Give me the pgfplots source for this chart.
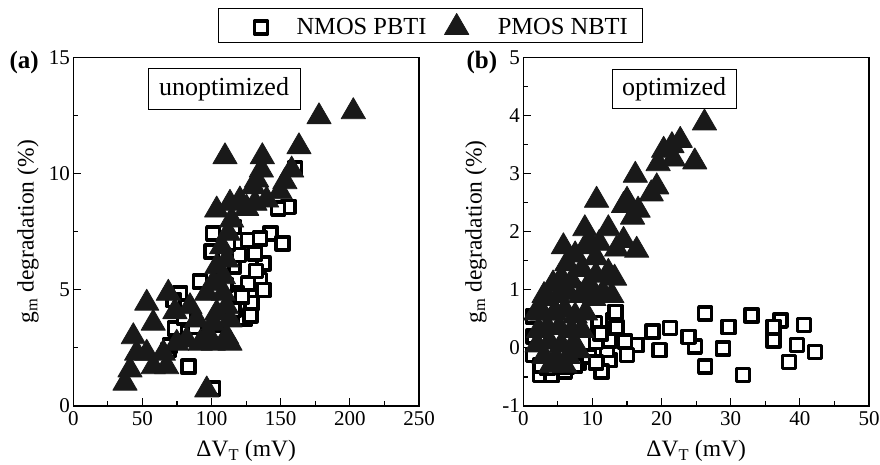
\documentclass[border=0pt]{standalone}
\usepackage{fontspec}
\setmainfont{Liberation Serif}
\usepackage{pgfplots}
\pgfplotsset{compat=1.18}
\pgfplotsset{
  myaxis/.style={
    scale only axis, width=345.7pt, height=348.7pt,
    axis line style={line width=1.5pt},
    tick style={line width=1.2pt, black},
    major tick length=8pt, minor tick length=5pt,
    tick align=inside, tick pos=left,
    minor x tick num=1, minor y tick num=1,
    /pgf/number format/assume math mode=true,
    ticklabel style={font=\fontsize{21}{25}\selectfont},
    xticklabel style={yshift=-2pt},
    label style={font=\fontsize{23.5}{28}\selectfont},
    x label style={at={(axis description cs:0.5,0)}, anchor=base, yshift=-51pt},
    xlabel={ΔV\textsubscript{T} (mV)},
    ylabel={g\textsubscript{m} degradation (\%)},
    clip=false,
  },
  sq/.style={only marks, mark=square*, mark size=6.5pt,
    mark options={draw=black, fill=white, line width=3.5pt, line join=round}},
  sqleg/.style={legend image code/.code={\path (-21pt,0pt); \draw[mark repeat=2,mark phase=2,##1] plot coordinates {(0cm,0cm) (0.3cm,0cm) (0.6cm,0cm)};}},
  tri/.style={only marks, mark=triangle*, mark size=14pt,
    mark options={draw=black!90, fill=black!90, line width=0.8pt, line join=round}},
}
\begin{document}
\begin{tikzpicture}
\path[use as bounding box] (-73.3pt,-59pt) rectangle (806.7pt,406pt);
\begin{axis}[myaxis, at={(0pt,0pt)}, anchor=south west,
  xmin=0, xmax=250, ymin=0, ymax=15,
  xtick={0,50,...,250}, ytick={0,5,10,15},
  y label style={at={(axis description cs:-0.09,0.5)}, anchor=south},
  legend style={at={(axis description cs:1.033,1.09)}, anchor=center,
    legend columns=2, draw=black, line width=1pt,
    inner xsep=13pt, inner ysep=4.5pt,
    font=\fontsize{24.5}{28}\selectfont,
    /tikz/every odd column/.append style={column sep=27pt},
    /tikz/every even column/.append style={column sep=16pt}},
]
\addplot[sq, sqleg] coordinates {
(160.3,10.22)(155.5,8.57)(148.2,8.5)(142.7,7.43)(151.4,7.0)(126.5,7.14)(115.7,7.71)
(101.2,7.43)(100.1,6.64)(137.4,6.14)(131.4,6.57)(135,5.42)(137.4,4.99)(126.5,5.28)
(129,4.42)(124.2,3.77)(115.7,5.99)(118.1,4.85)(115.7,4.13)(91.6,5.35)(77.2,4.85)
(72.3,4.56)(84.4,3.7)(73.5,3.34)(68.7,2.41)(83.2,1.69)(101.2,0.76)(96.5,3.13)
(105,3.5)(110,5.2)(120,6.5)(132,5.8)(128,3.9)(88,3.4)(80,3.8)(70,2.6)(108,6.0)
(112,7.0)(122,4.7)(135,7.2)
};
\addlegendentry{NMOS PBTI}
\addplot[tri] coordinates {
(202.5,12.66)(177.7,12.44)(163.2,11.15)(109.7,10.72)(136.7,10.72)(136,10.15)
(132.6,9.72)(130.2,9.43)(157.9,10.15)(153,9.65)(149.5,9.22)(139.8,8.86)(131.4,8.72)
(120.5,8.86)(113.3,8.72)(103.7,8.43)(125.4,8.5)(112,7.43)(107.3,6.85)(110.9,6.28)
(103.7,5.99)(108.5,5.56)(101.2,5.28)(96.5,4.85)(108.5,4.85)(110.9,4.27)(103.7,4.0)
(113.3,3.7)(96.5,2.98)(110.9,2.98)(113.3,2.7)(101.2,2.7)(91.8,2.7)(82,2.84)
(74.8,2.7)(84.4,4.27)(73.5,4.06)(68.7,4.85)(53.1,4.42)(57.8,3.56)(43.4,2.98)
(45.8,2.27)(41,1.55)(37.4,0.98)(53.1,2.27)(57.8,1.69)(67.5,1.69)(65.1,2.27)
(96.5,0.69)(89.2,3.7)(101.2,3.56)(114.5,8.0)
};
\addlegendentry{PMOS NBTI}
\node[draw=black, line width=1pt, minimum width=152pt, minimum height=41pt, inner sep=0pt,
  font=\fontsize{26}{31}\selectfont] at (axis description cs:0.436,0.9077) {unoptimized};
\node[font=\bfseries\fontsize{25}{30}\selectfont] at (axis description cs:-0.142,0.9865) {(a)};
\end{axis}
\begin{axis}[myaxis, at={(450pt,0pt)}, anchor=south west,
  xmin=0, xmax=50, ymin=-1, ymax=5,
  xtick={0,10,...,50}, ytick={-1,0,...,5},
  y label style={at={(axis description cs:-0.096,0.5)}, anchor=south},
]
\addplot[sq] coordinates {
(26.3,0.59)(33.0,0.56)(37.2,0.47)(40.6,0.39)(36.2,0.36)(29.7,0.36)(36.2,0.13)
(39.6,0.05)(42.2,-0.07)(38.4,-0.24)(31.8,-0.47)(26.3,-0.32)(28.9,-0.01)(24.8,0.02)
(23.9,0.19)(21.2,0.34)(18.7,0.28)(19.7,-0.04)(16.4,0.05)(14.7,0.11)(15.0,-0.12)
(13.0,0.48)(13.3,0.62)(12.5,-0.21)(11.3,-0.41)(12.1,-0.04)(10.4,0.43)(12.5,0.13)
(2.4,-0.47)(4.1,-0.47)(6.0,-0.41)(1.4,-0.12)(1.4,0.54)(1.5,0.2)(6.3,-0.32)(8,-0.25)
(9.5,-0.15)(10.5,0.1)(11.2,0.25)(9,0.4)(3.5,-0.35)(7.5,-0.3)(10.5,-0.25)(13.5,0.35)
(2.5,-0.3)(5,-0.25)
};
\addplot[tri] coordinates {
(26.2,3.87)(22.7,3.57)(21.5,3.48)(20.3,3.40)(24.8,3.2)(19.5,3.17)(21.7,3.25)
(16.2,2.97)(19.3,2.77)(18.5,2.65)(10.6,2.54)(15,2.54)(14.5,2.45)(16.6,2.37)
(15.8,2.25)(8.9,2.05)(12.3,2.05)(14.5,1.85)(16.4,1.68)(13.5,1.7)(11,1.8)(9.5,1.85)
(5.8,1.74)(9.2,1.74)(7.5,1.6)(6.3,1.45)(10.5,1.55)(12.3,1.3)(8.5,1.35)(4.3,1.1)
(5.5,1.2)(7,1.15)(9.5,1.1)(11.5,0.95)(3.5,0.85)(5,0.9)(6.5,0.95)(8.3,0.9)(10.2,0.85)
(2.8,0.6)(4.5,0.6)(6,0.65)(7.5,0.55)(9,0.6)(2.2,0.3)(3.5,0.35)(5.2,0.35)(7,0.3)
(8.5,0.3)(2,0.05)(3.8,0.1)(5.5,0.05)(7.2,0.05)(3,-0.15)(4.8,-0.2)(6.5,-0.15)
(4,-0.3)(6,-0.3)(8,-0.05)(3,0.9)(9,0.9)(12.8,0.9)(13.2,1.2)(1.8,0.6)(10.5,1.25)
};
\node[draw=black, line width=1pt, minimum width=124pt, minimum height=39pt, inner sep=0pt,
  font=\fontsize{26}{31}\selectfont] at (axis description cs:0.436,0.9077) {optimized};
\node[font=\bfseries\fontsize{25}{30}\selectfont] at (axis description cs:-0.12,0.9865) {(b)};
\end{axis}
\end{tikzpicture}
\end{document}
